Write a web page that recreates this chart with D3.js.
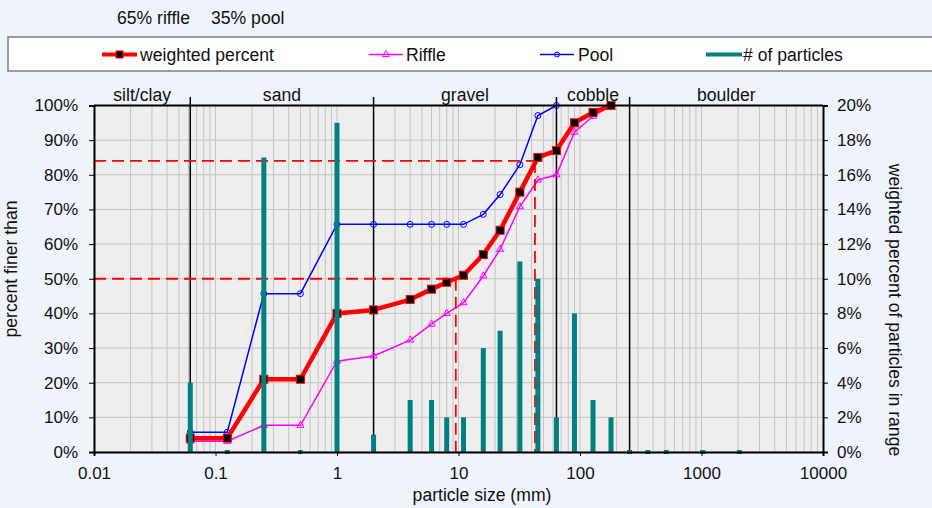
<!DOCTYPE html>
<html><head><meta charset="utf-8">
<script src="https://cdn.jsdelivr.net/npm/d3@7"></script>
<style>
html,body{margin:0;padding:0;background:#eff3fa;}
svg text{font-family:"Liberation Sans",Arial,sans-serif;fill:#111;}
</style></head>
<body><svg id="c" width="932" height="508"></svg>
<script>
// ---- data ----
const sizes = [0.062, 0.125, 0.25, 0.5, 1, 2, 4, 6, 8, 11, 16, 22, 32, 45, 64, 90, 128, 180, 256, 362, 512, 1024, 2048];
const weighted = [4, 4, 21, 21, 40, 41, 44, 47, 49, 51, 57, 64, 75, 85, 87, 95, 98, 100];
const riffle = [3.1, 3.1, 7.7, 7.7, 26.2, 27.7, 32.3, 36.9, 40, 43.1, 50.8, 58.5, 70.8, 78.5, 80, 92.3, 96.9, 100];
const pool = [5.7, 5.7, 45.7, 45.7, 65.7, 65.7, 65.7, 65.7, 65.7, 65.7, 68.6, 74.3, 82.9, 97.1, 100];
const particles = [4, 0, 17, 0, 19, 1, 3, 3, 2, 2, 6, 7, 11, 10, 2, 8, 3, 2, 0, 0, 0, 0, 0];
const classNames = ["silt/clay", "sand", "gravel", "cobble", "boulder"];
const classBounds = [0.01, 0.062, 2, 64, 256, 10000];
const xTicks = [0.01, 0.1, 1, 10, 100, 1000, 10000];
const yLeftTicks = [0, 10, 20, 30, 40, 50, 60, 70, 80, 90, 100];
const yRightTicks = [0, 2, 4, 6, 8, 10, 12, 14, 16, 18, 20];
const dLines = [{p: 50, d: 9.5}, {p: 84, d: 42.6}];
const headerTexts = ["65% riffle", "35% pool"];
const legendNames = ["weighted percent", "Riffle", "Pool", "# of particles"];

// ---- layout ----
const svg = d3.select("#c");
const X0 = 94, X1 = 823, Y0 = 105.5, Y1 = 452;
const x = d3.scaleLog().domain([0.01, 10000]).range([X0, X1]);
const yL = d3.scaleLinear().domain([0, 100]).range([Y1, Y0]);
const yR = d3.scaleLinear().domain([0, 20]).range([Y1, Y0]);
const FS = 17.6, TFS = 17;

svg.append("rect").attr("width", 932).attr("height", 508).attr("fill", "#eff3fa");

// header
const hx = [117, 211];
headerTexts.forEach((t, i) => svg.append("text").attr("x", hx[i]).attr("y", 24).attr("font-size", FS).text(t));

// legend
svg.append("rect").attr("x", 8).attr("y", 37).attr("width", 960).attr("height", 34)
  .attr("fill", "#fff").attr("stroke", "#7f7f7f").attr("stroke-width", 1.5);
const lg = svg.append("g");
const ly = 54.5;
// weighted
lg.append("line").attr("x1", 102).attr("x2", 137).attr("y1", ly).attr("y2", ly).attr("stroke", "#ff0000").attr("stroke-width", 4);
lg.append("rect").attr("x", 116).attr("y", ly - 3.5).attr("width", 7).attr("height", 7).attr("fill", "#000").attr("stroke", "#ff0000");
lg.append("text").attr("x", 140).attr("y", 60.5).attr("font-size", FS).text(legendNames[0]);
// riffle
lg.append("line").attr("x1", 369).attr("x2", 403).attr("y1", ly).attr("y2", ly).attr("stroke", "#ff00ff").attr("stroke-width", 1.5);
lg.append("path").attr("d", d3.symbol(d3.symbolTriangle, 22)()).attr("transform", `translate(386,${ly})`).attr("fill", "none").attr("stroke", "#ff00ff");
lg.append("text").attr("x", 406).attr("y", 60.5).attr("font-size", FS).text(legendNames[1]);
// pool
lg.append("line").attr("x1", 540).attr("x2", 574).attr("y1", ly).attr("y2", ly).attr("stroke", "#0000ff").attr("stroke-width", 1.5);
lg.append("circle").attr("cx", 557).attr("cy", ly).attr("r", 2.5).attr("fill", "none").attr("stroke", "#0000ff");
lg.append("text").attr("x", 578).attr("y", 60.5).attr("font-size", FS).text(legendNames[2]);
// particles
lg.append("line").attr("x1", 706).attr("x2", 742).attr("y1", ly).attr("y2", ly).attr("stroke", "#008080").attr("stroke-width", 4);
lg.append("text").attr("x", 743).attr("y", 60.5).attr("font-size", FS).text(legendNames[3]);

// plot background
svg.append("rect").attr("x", X0).attr("y", Y0).attr("width", X1 - X0).attr("height", Y1 - Y0).attr("fill", "#eeeeee");

// grid
const grid = svg.append("g").attr("stroke", "#c4c4c4").attr("stroke-width", 1);
const vGrid = [];
for (let e = -2; e <= 3; e++) for (let k = 1; k <= 9; k++) vGrid.push(k * Math.pow(10, e));
grid.selectAll(".vg").data(vGrid).join("line")
  .attr("x1", d => x(d)).attr("x2", d => x(d)).attr("y1", Y0).attr("y2", Y1);
grid.selectAll(".hg").data(yLeftTicks).join("line")
  .attr("x1", X0).attr("x2", X1).attr("y1", d => yL(d)).attr("y2", d => yL(d));

// class boundaries
svg.append("g").selectAll("line").data(classBounds.slice(1, -1)).join("line")
  .attr("x1", d => x(d)).attr("x2", d => x(d)).attr("y1", 97).attr("y2", Y1)
  .attr("stroke", "#000").attr("stroke-width", 1.5);
svg.append("g").selectAll("text").data(classNames).join("text")
  .attr("x", (d, i) => (x(classBounds[i]) + x(classBounds[i + 1])) / 2)
  .attr("y", 101).attr("text-anchor", "middle").attr("font-size", FS).text(d => d);

// lines
const lineGen = (arr) => d3.line().x((d, i) => x(sizes[i])).y(d => yL(d))(arr);
// riffle
svg.append("path").attr("d", lineGen(riffle)).attr("fill", "none").attr("stroke", "#ff00ff").attr("stroke-width", 1.5);
svg.append("g").selectAll("path").data(riffle).join("path")
  .attr("d", d3.symbol(d3.symbolTriangle, 22)())
  .attr("transform", (d, i) => `translate(${x(sizes[i])},${yL(d)})`)
  .attr("fill", "none").attr("stroke", "#ff00ff");
// pool
svg.append("path").attr("d", lineGen(pool)).attr("fill", "none").attr("stroke", "#0000ff").attr("stroke-width", 1.5);
svg.append("g").selectAll("circle").data(pool).join("circle")
  .attr("cx", (d, i) => x(sizes[i])).attr("cy", d => yL(d)).attr("r", 3)
  .attr("fill", "none").attr("stroke", "#0000ff");
// weighted
svg.append("path").attr("d", lineGen(weighted)).attr("fill", "none").attr("stroke", "#ff0000").attr("stroke-width", 4.5).attr("stroke-linejoin", "round");
svg.append("g").selectAll("rect").data(weighted).join("rect")
  .attr("x", (d, i) => x(sizes[i]) - 4).attr("y", d => yL(d) - 4).attr("width", 8).attr("height", 8)
  .attr("fill", "#000").attr("stroke", "#ff0000");

// dashed D50/D84
const dg = svg.append("g").attr("stroke", "#ff0000").attr("stroke-width", 1.8).attr("stroke-dasharray", "12,6").attr("fill", "none");
dLines.forEach(o => {
  dg.append("path").attr("d", `M${X0},${yL(o.p)}H${x(o.d)}`);
  dg.append("path").attr("d", `M${x(o.d)},${yL(o.p)}V${yL(0)}`);
});

// particle bars
svg.append("g").selectAll("rect").data(particles).join("rect")
  .attr("x", (d, i) => x(sizes[i]) - 2.5)
  .attr("y", d => d > 0 ? yR(d) : yR(0) - 2)
  .attr("width", 5)
  .attr("height", d => d > 0 ? yR(0) - yR(d) + 1 : 4)
  .attr("fill", "#008080");

// axes
const axL = svg.append("g").attr("transform", `translate(${X0},0)`)
  .call(d3.axisLeft(yL).tickValues(yLeftTicks).tickFormat(d => d + "%").tickSize(5).tickPadding(11));
const axR = svg.append("g").attr("transform", `translate(${X1},0)`)
  .call(d3.axisRight(yR).tickValues(yRightTicks).tickFormat(d => d + "%").tickSize(5).tickPadding(9));
const axB = svg.append("g").attr("transform", `translate(0,${Y1})`)
  .call(d3.axisBottom(x).tickValues(xTicks).tickFormat(d => String(d)).tickSize(4).tickPadding(11));
[axL, axR, axB].forEach(a => {
  a.selectAll("text").attr("font-size", TFS).attr("font-family", "Liberation Sans, Arial, sans-serif").attr("fill", "#111");
  a.select(".domain").attr("stroke", "#000").attr("stroke-width", 2);
  a.selectAll(".tick line").attr("stroke", "#000");
});
// top border
svg.append("line").attr("x1", X0).attr("x2", X1).attr("y1", Y0).attr("y2", Y0).attr("stroke", "#000").attr("stroke-width", 2);

// titles
svg.append("text").attr("transform", `translate(17,269) rotate(-90)`).attr("text-anchor", "middle").attr("font-size", FS).text("percent finer than");
svg.append("text").attr("transform", `translate(889,310) rotate(90)`).attr("text-anchor", "middle").attr("font-size", FS).text("weighted percent of particles in range");
svg.append("text").attr("x", 482).attr("y", 501).attr("text-anchor", "middle").attr("font-size", FS).text("particle size (mm)");
</script></body></html>
